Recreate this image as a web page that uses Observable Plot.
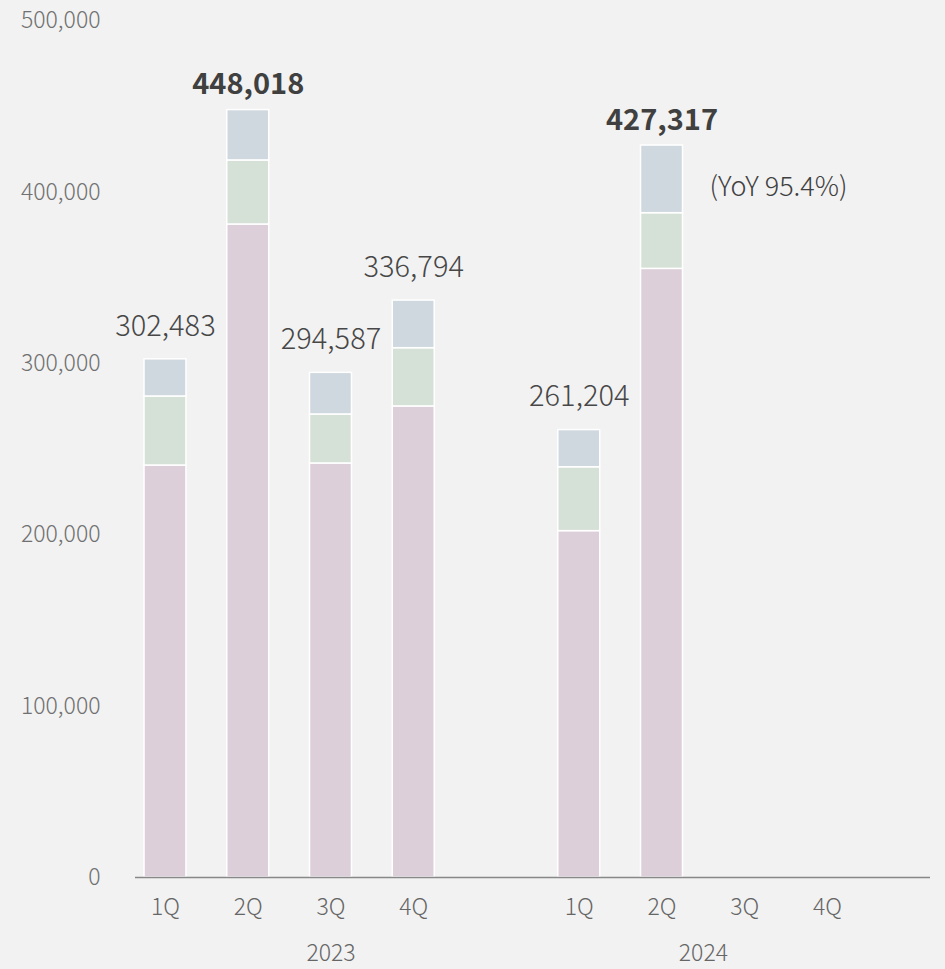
<!DOCTYPE html>
<html>
<head>
<meta charset="utf-8">
<script src="https://cdn.jsdelivr.net/npm/d3@7"></script>
<script src="https://cdn.jsdelivr.net/npm/@observablehq/plot@0.6"></script>
<style>
  html, body { margin: 0; padding: 0; background: #f2f2f2; }
  #chart svg { display: block; }
</style>
</head>
<body>
<div id="chart"></div>
<script>
// ---- Data ----
const years = ["2023", "2024"];
const quarterSlots = [["1Q", "2Q", "3Q", "4Q", ""], ["1Q", "2Q", "3Q", "4Q"]];
const seriesNames = ["Segment A", "Segment B", "Segment C"]; // bottom → top
const seriesA = [240500, 381200, 241700, 275000, 202200, 355300];
const seriesB = [40300, 37400, 28600, 34000, 37300, 32500];
const seriesC = [21700, 29400, 24300, 27800, 21700, 39500];
const totals = [302483, 448018, 294587, 336794, 261204, 427317];
const yTicks = [0, 100000, 200000, 300000, 400000, 500000];
const colors = ["#dccfd9", "#d5e0d6", "#cfd8df"];

// ---- Build tables ----
const slots = [];
years.forEach((yr, g) => quarterSlots[g].forEach(q => slots.push({year: yr, q, idx: slots.length})));
const dataSlots = slots.filter(s => s.q !== "").slice(0, totals.length);
const series = [seriesA, seriesB, seriesC];
const rows = [];
dataSlots.forEach((s, j) => {
  let cum = 0;
  series.forEach((arr, k) => {
    rows.push({idx: s.idx, seg: seriesNames[k], y1: cum, y2: cum + arr[j]});
    cum += arr[j];
  });
});
const labels = dataSlots.map((s, j) => ({...s, total: totals[j]}));
const fmt = d3.format(",");
const quarterTicks = slots.filter(s => s.q !== "");
const qMap = new Map(quarterTicks.map(s => [s.idx + 0.5, s.q]));
const yearCenters = years.map(yr => {
  const idxs = slots.filter(s => s.year === yr).map(s => s.idx);
  return {year: yr, pos: d3.mean(idxs) + 0.5};
});
const yMap = new Map(yearCenters.map(d => [d.pos, d.year]));
// YoY for latest quarter vs same quarter last year
const last = labels[labels.length - 1];
const prev = labels.find(l => l.year === years[0] && l.q === last.q);
const yoy = {...last, text: `(YoY ${(last.total / prev.total * 100).toFixed(1)}%)`};

const font = "'Noto Sans CJK JP', 'Noto Sans', sans-serif";

const chart = Plot.plot({
  width: 945,
  height: 969,
  marginTop: 20.5,
  marginBottom: 92,
  marginLeft: 135,
  marginRight: 15,
  style: {background: "#f2f2f2", fontFamily: font, overflow: "visible"},
  x: {type: "linear", domain: [0, slots.length], range: [123.6, 868.4]},
  y: {domain: [0, 500000]},
  color: {domain: seriesNames, range: colors},
  marks: [
    Plot.axisY({ticks: yTicks, tickFormat: fmt, tickSize: 0, tickPadding: 35, fontSize: 23, fontWeight: 300, fill: "#707070", label: null}),
    Plot.rect(rows, {x1: "idx", x2: d => d.idx + 1, y1: "y1", y2: "y2", fill: "seg", stroke: "white", strokeWidth: 1.5, insetLeft: 20.4, insetRight: 20.4}),
    Plot.ruleY([0], {stroke: "#888", strokeWidth: 1.5}),
    Plot.axisX({ticks: [...qMap.keys()], tickFormat: d => qMap.get(d), tickSize: 0, tickPadding: 21, fontSize: 23, fontWeight: 300, fill: "#666", label: null}),
    Plot.axisX({ticks: [...yMap.keys()], tickFormat: d => yMap.get(d), tickSize: 0, tickPadding: 67, fontSize: 23, fontWeight: 300, fill: "#666", label: null}),
    Plot.text(labels.filter(d => d.q !== "2Q"), {x: d => d.idx + 0.5, y: "total", text: d => fmt(d.total), dy: -33, fontSize: 29, fontWeight: 300, fill: "#474747"}),
    Plot.text(labels.filter(d => d.q === "2Q"), {x: d => d.idx + 0.5, y: "total", text: d => fmt(d.total), dy: -25, fontSize: 29, fontWeight: "bold", fill: "#404040"}),
    Plot.text([yoy], {x: d => d.idx + 1, y: "total", text: "text", textAnchor: "start", dx: 6, dy: 42, fontSize: 27, fontWeight: 300, fill: "#404040"})
  ]
});
document.getElementById("chart").appendChild(chart);
</script>
</body>
</html>
